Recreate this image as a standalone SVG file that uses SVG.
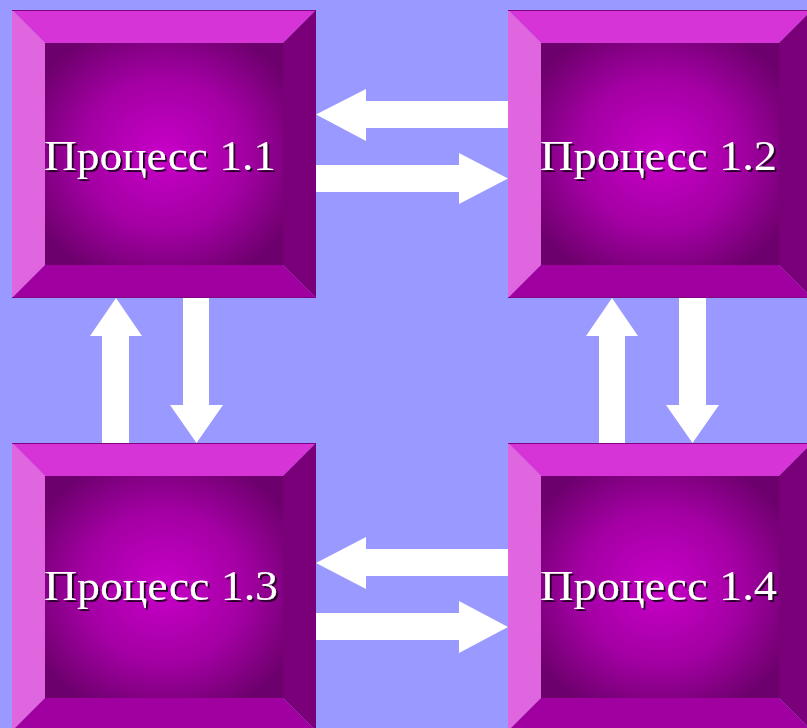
<svg xmlns="http://www.w3.org/2000/svg" xmlns:xlink="http://www.w3.org/1999/xlink" width="807" height="728" viewBox="0 0 807 728">
  <style>
    .bev-top { fill: #D634D6; }
    .bev-left { fill: #E066E0; }
    .bev-right { fill: #7A007A; }
    .bev-bottom { fill: #A000A0; }
    .edge { fill: none; stroke: #800080; stroke-width: 1; }
    .face { fill: url(#faceGrad); }
    .label { font-family: "Liberation Serif", "Times New Roman", serif; font-size: 43px; fill: #FFFFFF; filter: url(#shadow); }
    .arrow { fill: #FFFFFF; }
  </style>
  <defs>
    <radialGradient id="faceGrad" cx="0.5" cy="0.5" r="0.62">
      <stop offset="0" stop-color="#C800C8"/>
      <stop offset="0.55" stop-color="#A300A3"/>
      <stop offset="1" stop-color="#6C006C"/>
    </radialGradient>
    <filter id="shadow" x="-10%" y="-20%" width="120%" height="150%">
      <feDropShadow dx="2" dy="2" stdDeviation="0.4" flood-color="#2A002A" flood-opacity="1"/>
    </filter>
    <!-- bevelled button, 304 x 288, bevel width 33 -->
    <g id="bevelBox">
      <rect class="face" x="33" y="33" width="238" height="222"/>
      <polygon class="bev-top" points="0,0 304,0 271,33 33,33"/>
      <polygon class="bev-left" points="0,0 33,33 33,255 0,288"/>
      <polygon class="bev-right" points="304,0 304,288 271,255 271,33"/>
      <polygon class="bev-bottom" points="0,288 33,255 271,255 304,288"/>
      <path class="edge" d="M0,0.5 H304 M0,287.5 H304"/>
    </g>
  </defs>

  <!-- background -->
  <rect x="0" y="0" width="807" height="728" fill="#9999FF"/>

  <g id="process-1-1">
    <use xlink:href="#bevelBox" transform="translate(12,10)"/>
    <text class="label" x="44" y="170" textLength="232" lengthAdjust="spacingAndGlyphs">Процесс 1.1</text>
  </g>
  <g id="process-1-2">
    <use xlink:href="#bevelBox" transform="translate(508,10)"/>
    <text class="label" x="540" y="170" textLength="237" lengthAdjust="spacingAndGlyphs">Процесс 1.2</text>
  </g>
  <g id="process-1-3">
    <use xlink:href="#bevelBox" transform="translate(12,443)"/>
    <text class="label" x="44" y="600" textLength="234" lengthAdjust="spacingAndGlyphs">Процесс 1.3</text>
  </g>
  <g id="process-1-4">
    <use xlink:href="#bevelBox" transform="translate(508,443)"/>
    <text class="label" x="540" y="600" textLength="237" lengthAdjust="spacingAndGlyphs">Процесс 1.4</text>
  </g>

  <g id="connectors">
    <!-- 1.2 -> 1.1 -->
    <polygon class="arrow" points="508,101 366,101 366,89 316,114.5 366,141 366,128 508,128"/>
    <!-- 1.1 -> 1.2 -->
    <polygon class="arrow" points="316,165 459,165 459,153 508,178.5 459,204 459,192 316,192"/>
    <!-- 1.3 -> 1.1 -->
    <polygon class="arrow" points="102,443 102,336 90,336 116,298 142,336 129,336 129,443"/>
    <!-- 1.1 -> 1.3 -->
    <polygon class="arrow" points="183,298 209,298 209,405 223,405 196.5,443 170,405 183,405"/>
    <!-- 1.4 -> 1.2 -->
    <polygon class="arrow" points="599,443 599,336 586,336 612,298 638,336 625,336 625,443"/>
    <!-- 1.2 -> 1.4 -->
    <polygon class="arrow" points="679,298 706,298 706,405 719,405 692.5,443 666,405 679,405"/>
    <!-- 1.4 -> 1.3 -->
    <polygon class="arrow" points="508,549 366,549 366,537 316,563 366,589 366,576 508,576"/>
    <!-- 1.3 -> 1.4 -->
    <polygon class="arrow" points="316,613 459,613 459,601 508,627 459,653 459,640 316,640"/>
  </g>
</svg>
